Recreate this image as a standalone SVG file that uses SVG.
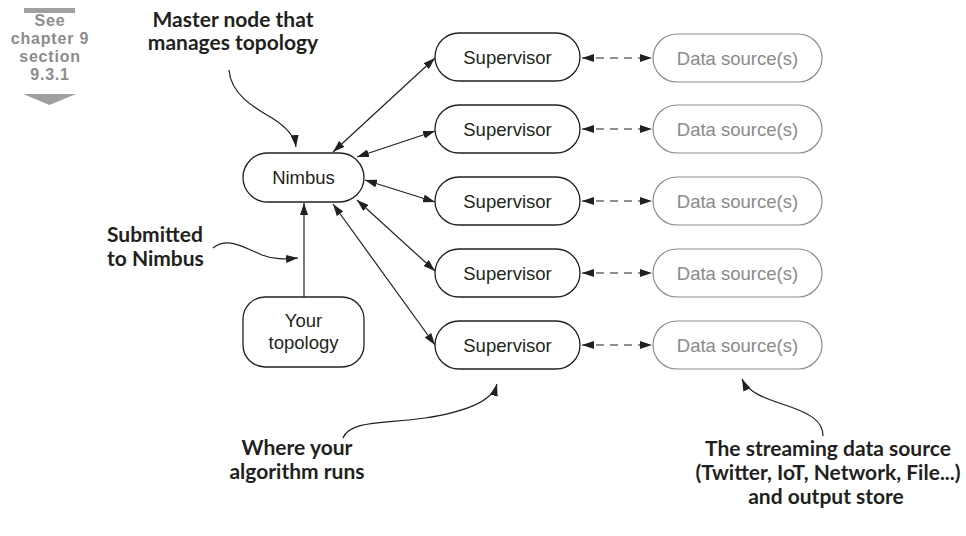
<svg xmlns="http://www.w3.org/2000/svg" width="966" height="536" viewBox="0 0 966 536">
<defs>
<style>
.box{fill:#fff;stroke:#231f20;stroke-width:1.3}
.ds{fill:#fff;stroke:#8c8c8c;stroke-width:1.2}
.t{font-family:"Liberation Sans",Arial,sans-serif;font-size:18.5px;fill:#231f20;text-anchor:middle}
.dt{fill:#8a8a8a}
.lbl{font-family:Lato,"Liberation Sans",sans-serif;font-weight:bold;font-size:21px;fill:#231f20}
.see{font-family:"Liberation Sans",Arial,sans-serif;font-weight:bold;font-size:16px;letter-spacing:0.8px;fill:#8c8c8c;text-anchor:middle}
.c{fill:none;stroke:#231f20;stroke-width:1.2}
.dash{fill:none;stroke:#231f20;stroke-width:1.2;stroke-dasharray:8 6}
</style>
<marker id="ah" viewBox="0 0 12 8" refX="12" refY="4" markerWidth="12" markerHeight="8" markerUnits="userSpaceOnUse" orient="auto-start-reverse">
<path d="M0,0 L12,4 L0,8 Z" fill="#231f20"/>
</marker>
</defs>

<g id="see-note">
<rect x="24" y="8" width="51" height="5" fill="#a0a0a0"/>
<text class="see" x="50" y="26">See</text>
<text class="see" x="50" y="44">chapter 9</text>
<text class="see" x="50" y="62">section</text>
<text class="see" x="50" y="80">9.3.1</text>
<polygon points="23,94 76,94 49.5,105" fill="#a0a0a0"/>
</g>

<g id="nimbus">
<rect class="box" x="243" y="153" width="121" height="49" rx="24.5"/>
<text class="t" x="303.5" y="184">Nimbus</text>
</g>

<g id="your-topology">
<rect class="box" x="243" y="297" width="121" height="70" rx="22"/>
<text class="t" x="303.5" y="327">Your</text>
<text class="t" x="303.5" y="349">topology</text>
</g>

<g id="supervisor-1"><rect class="box" x="435" y="33" width="145" height="48" rx="24"/><text class="t" x="507.5" y="63.5">Supervisor</text></g>
<g id="supervisor-2"><rect class="box" x="435" y="105" width="145" height="48" rx="24"/><text class="t" x="507.5" y="135.5">Supervisor</text></g>
<g id="supervisor-3"><rect class="box" x="435" y="177" width="145" height="48" rx="24"/><text class="t" x="507.5" y="207.5">Supervisor</text></g>
<g id="supervisor-4"><rect class="box" x="435" y="249" width="145" height="48" rx="24"/><text class="t" x="507.5" y="279.5">Supervisor</text></g>
<g id="supervisor-5"><rect class="box" x="435" y="321" width="145" height="48" rx="24"/><text class="t" x="507.5" y="351.5">Supervisor</text></g>

<g id="datasource-1"><rect class="ds" x="653" y="34" width="169" height="48" rx="24"/><text class="t dt" x="737.5" y="64.5">Data source(s)</text></g>
<g id="datasource-2"><rect class="ds" x="653" y="105" width="169" height="48" rx="24"/><text class="t dt" x="737.5" y="135.5">Data source(s)</text></g>
<g id="datasource-3"><rect class="ds" x="653" y="177" width="169" height="48" rx="24"/><text class="t dt" x="737.5" y="207.5">Data source(s)</text></g>
<g id="datasource-4"><rect class="ds" x="653" y="249" width="169" height="48" rx="24"/><text class="t dt" x="737.5" y="279.5">Data source(s)</text></g>
<g id="datasource-5"><rect class="ds" x="653" y="321" width="169" height="48" rx="24"/><text class="t dt" x="737.5" y="351.5">Data source(s)</text></g>

<g id="connectors">
<line class="c" x1="304" y1="297" x2="304" y2="203" marker-end="url(#ah)"/>
<line class="c" x1="333" y1="152" x2="435" y2="58" marker-start="url(#ah)" marker-end="url(#ah)"/>
<line class="c" x1="357" y1="157" x2="435" y2="131" marker-start="url(#ah)" marker-end="url(#ah)"/>
<line class="c" x1="365" y1="180" x2="435" y2="202" marker-start="url(#ah)" marker-end="url(#ah)"/>
<line class="c" x1="357" y1="200" x2="435" y2="271" marker-start="url(#ah)" marker-end="url(#ah)"/>
<line class="c" x1="333" y1="204" x2="435" y2="345" marker-start="url(#ah)" marker-end="url(#ah)"/>
<line class="dash" x1="582" y1="58" x2="652" y2="58" marker-start="url(#ah)" marker-end="url(#ah)"/>
<line class="dash" x1="582" y1="129" x2="652" y2="129" marker-start="url(#ah)" marker-end="url(#ah)"/>
<line class="dash" x1="582" y1="201" x2="652" y2="201" marker-start="url(#ah)" marker-end="url(#ah)"/>
<line class="dash" x1="582" y1="273" x2="652" y2="273" marker-start="url(#ah)" marker-end="url(#ah)"/>
<line class="dash" x1="582" y1="345" x2="652" y2="345" marker-start="url(#ah)" marker-end="url(#ah)"/>
</g>

<g id="annotations">
<text class="lbl" x="233" y="27" text-anchor="middle">Master node that</text>
<text class="lbl" x="233" y="50" text-anchor="middle">manages topology</text>
<path class="c" d="M229,70 C231,95 255,108 272,118 C288,128 295,138 296,147" marker-end="url(#ah)"/>
<text class="lbl" x="107" y="242">Submitted</text>
<text class="lbl" x="107" y="266">to Nimbus</text>
<path class="c" d="M213,248 C228,236 245,248 262,255 C275,260 285,259 298,258" marker-end="url(#ah)"/>
<text class="lbl" x="297" y="455" text-anchor="middle">Where your</text>
<text class="lbl" x="297" y="479" text-anchor="middle">algorithm runs</text>
<path class="c" d="M343,438 C350,420 385,424 425,418 C465,412 492,402 497,384" marker-end="url(#ah)"/>
<text class="lbl" x="828" y="456" text-anchor="middle">The streaming data source</text>
<text class="lbl" x="828" y="480" text-anchor="middle">(Twitter, IoT, Network, File...)</text>
<text class="lbl" x="826" y="504" text-anchor="middle">and output store</text>
<path class="c" d="M823,436 C823,420 808,413 788,406 C763,398 748,392 742,379" marker-end="url(#ah)"/>
</g>
</svg>
